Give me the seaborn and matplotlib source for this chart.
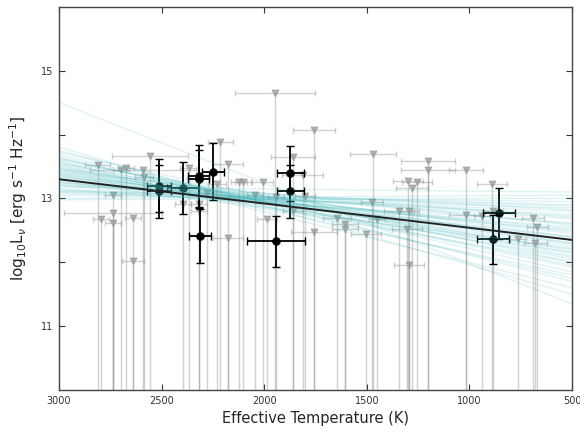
import numpy as np
import pandas as pd
import matplotlib
matplotlib.use("Agg")
import matplotlib.pyplot as plt
import seaborn as sns

# ---------------- data ----------------
# upper limits (grey triangles)
lim_teff = [2810, 2795, 2737, 2737, 2737, 2698, 2673, 2639, 2639, 2591, 2586, 2557,
            2396, 2366, 2318, 2318, 2279, 2230, 2215, 2176, 2176, 2123, 2103, 2045,
            2006, 1986, 1947, 1943, 1860, 1860, 1811, 1801, 1757, 1757, 1645, 1606,
            1606, 1504, 1475, 1470, 1450, 1343, 1304, 1300, 1294, 1294, 1280, 1255,
            1202, 1202, 1017, 1017, 939, 890, 885, 763, 690, 680, 670]
lim_lum = [13.53, 12.67, 13.05, 12.77, 12.61, 13.45, 13.47, 12.70, 12.02, 13.44, 13.33, 13.67,
           12.92, 13.47, 12.92, 12.81, 13.09, 13.23, 13.89, 13.54, 12.38, 13.26, 13.25, 13.06,
           13.26, 12.67, 14.65, 13.02, 13.65, 12.81, 13.36, 13.03, 14.07, 12.47, 12.69, 12.60,
           12.52, 12.44, 12.94, 13.70, 12.67, 12.81, 12.52, 13.28, 11.96, 12.80, 13.17, 13.25,
           13.59, 13.44, 13.45, 12.74, 12.72, 13.22, 12.81, 12.36, 12.70, 12.30, 12.56]
lim_teff_err = [61, 37, 41, 240, 41, 40, 40, 41, 54, 260, 46, 185,
                40, 45, 40, 40, 45, 45, 61, 73, 73, 37, 40, 40,
                51, 49, 195, 40, 107, 50, 100, 50, 102, 110, 68, 63,
                63, 73, 53, 114, 40, 73, 75, 73, 73, 50, 78, 73,
                130, 130, 83, 83, 40, 75, 50, 37, 56, 56, 51]

# detections (black points)
det_teff = [2513, 2513, 2396, 2318, 2318, 2250, 2313, 1943, 1874, 1874, 856, 885]
det_lum = [13.20, 13.11, 13.16, 13.35, 13.30, 13.42, 12.41, 12.33, 13.39, 13.11, 12.77, 12.36]
det_teff_err = [60, 60, 78, 51, 51, 54, 53, 141, 66, 66, 78, 78]
det_lum_err = [0.42, 0.42, 0.41, 0.48, 0.45, 0.44, 0.42, 0.40, 0.43, 0.42, 0.40, 0.38]

# posterior draws: value at 3000 K and at 500 K
draw_hot = [13.62, 13.45, 13.10, 13.35, 13.55, 13.20, 13.75, 13.05, 13.40, 13.28,
            13.50, 13.15, 13.68, 13.32, 13.00, 13.44, 13.25, 13.58, 13.12, 13.38,
            13.48, 13.22, 13.80, 13.08, 13.36, 13.52, 13.18, 13.30, 13.42, 13.60,
            12.98, 13.27, 13.65, 13.46, 13.14, 13.72, 13.33, 13.24, 13.56, 14.50,
            13.40, 13.29, 13.53, 13.21, 13.37, 13.47, 13.11, 13.63]
draw_cool = [11.95, 12.20, 12.80, 12.30, 12.05, 12.55, 11.70, 12.95, 12.45, 12.40,
             12.15, 12.75, 11.85, 12.60, 13.05, 12.00, 12.50, 11.60, 12.90, 12.35,
             12.28, 12.68, 11.50, 12.85, 12.15, 11.80, 13.10, 12.48, 12.58, 12.10,
             13.00, 12.22, 11.75, 12.40, 12.62, 12.00, 12.70, 12.82, 12.30, 11.35,
             12.25, 12.52, 12.18, 12.72, 12.38, 12.08, 12.88, 11.92]

# best fit
fit_teff = [3000, 500]
fit_lum = [13.30, 12.35]

# ---------------- style ----------------
sns.set_style("white")
plt.rcParams.update({
    "font.family": ["DejaVu Sans"],
    "xtick.direction": "in", "ytick.direction": "in",
    "xtick.top": True, "ytick.right": True,
    "xtick.bottom": True, "ytick.left": True,
    "xtick.major.size": 4, "ytick.major.size": 4,
    "xtick.color": "#333333", "ytick.color": "#333333",
    "axes.edgecolor": "#444444", "axes.linewidth": 1.0,
})

fig = plt.figure(figsize=(5.8, 4.33), dpi=100)
ax = fig.add_axes([0.1017, 0.0993, 0.8845, 0.885])

grey = "#8c8c8c"
# vertical lines of upper limits
ax.vlines(lim_teff, 10, lim_lum, color=grey, alpha=0.4, lw=1.0, zorder=1)
ax.errorbar(lim_teff, lim_lum, xerr=lim_teff_err, fmt="none", ecolor=grey,
            alpha=0.4, elinewidth=1.0, capsize=2.5, capthick=1.0, zorder=1)
lim_df = pd.DataFrame({"teff": lim_teff, "lum": lim_lum})
sns.scatterplot(data=lim_df, x="teff", y="lum", marker="v", s=26, color="#9a9a9a",
                edgecolor="#9a9a9a", linewidth=0.5, alpha=0.8, ax=ax, zorder=2)

# detections
ax.errorbar(det_teff, det_lum, xerr=det_teff_err, yerr=det_lum_err, fmt="none",
            ecolor="black", elinewidth=1.3, capsize=3, capthick=1.0, zorder=3)
det_df = pd.DataFrame({"teff": det_teff, "lum": det_lum})
sns.scatterplot(data=det_df, x="teff", y="lum", marker="o", s=32, color="black",
                edgecolor="black", ax=ax, zorder=4)

# posterior draws
rows = []
for i, (h, c) in enumerate(zip(draw_hot, draw_cool)):
    rows.append({"draw": i, "teff": 3000, "lum": h})
    rows.append({"draw": i, "teff": 500, "lum": c})
draws = pd.DataFrame(rows)
sns.lineplot(data=draws, x="teff", y="lum", units="draw", estimator=None,
             color="#3cb4b8", alpha=0.16, lw=1.0, ax=ax, zorder=5, legend=False)

fit_df = pd.DataFrame({"teff": fit_teff, "lum": fit_lum})
sns.lineplot(data=fit_df, x="teff", y="lum", color="#222222", lw=1.4, ax=ax, zorder=6)

ax.set_xlim(3000, 500)
ax.set_ylim(10, 16)
ax.set_xticks([3000, 2500, 2000, 1500, 1000, 500])
ax.set_yticks([11, 12, 13, 14, 15])
ax.set_yticklabels(["11", "", "13", "", "15"])
ax.tick_params(labelsize=7, pad=4)
ax.set_xlabel("Effective Temperature (K)", fontsize=10.5, labelpad=4)
ax.set_ylabel(r"log$_{10}$L$_{\nu}$ [erg s$^{-1}$ Hz$^{-1}$]", fontsize=11, labelpad=9)

fig.savefig("out.png", dpi=100)
